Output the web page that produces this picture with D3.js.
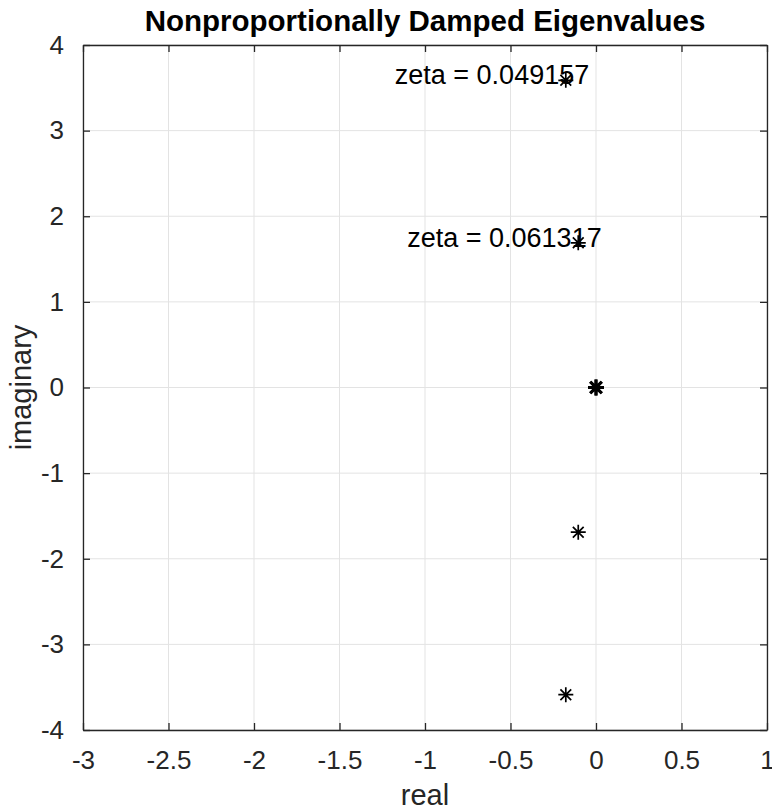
<!DOCTYPE html>
<html>
<head>
<meta charset="utf-8">
<script src="https://cdn.jsdelivr.net/npm/d3@7"></script>
<style>
  body { margin: 0; background: #fff; }
  text { font-family: "Liberation Sans", Arial, sans-serif; }
</style>
</head>
<body>
<svg id="viz"></svg>
<script>
var width = 772;
var height = 812;

// eigenvalues (real / imaginary parts)
var realParts = [-0.1766, -0.1766, -0.1038, -0.1038, 0, 0];
var imagParts = [3.588, -3.588, 1.690, -1.690, 0, 0];

// damping ratio labels, placed next to the upper eigenvalues
var zetaLabels = ["zeta = 0.049157", "zeta = 0.061317"];
var zetaReal = [-0.1766, -0.1038];
var zetaImag = [3.588, 1.690];

var xTicks = [-3, -2.5, -2, -1.5, -1, -0.5, 0, 0.5, 1];
var yTicks = [-4, -3, -2, -1, 0, 1, 2, 3, 4];

var margin = {top: 45, right: 5, bottom: 82, left: 83};

var svg = d3.select("#viz").attr("width", width).attr("height", height);

var x = d3.scaleLinear().domain([-3, 1]).range([margin.left, width - margin.right]);
var y = d3.scaleLinear().domain([-4, 4]).range([height - margin.bottom, margin.top]);

var axisColor = "#262626";
var tickLen = 7;

// grid lines
var grid = svg.append("g").attr("class", "grid");
grid.selectAll("line.gx")
    .data(xTicks)
    .enter()
    .append("line")
    .attr("x1", function(d) { return x(d); })
    .attr("x2", function(d) { return x(d); })
    .attr("y1", y(-4))
    .attr("y2", y(4))
    .attr("stroke", "#e3e3e3")
    .attr("stroke-width", 1);
grid.selectAll("line.gy")
    .data(yTicks)
    .enter()
    .append("line")
    .attr("y1", function(d) { return y(d); })
    .attr("y2", function(d) { return y(d); })
    .attr("x1", x(-3))
    .attr("x2", x(1))
    .attr("stroke", "#e3e3e3")
    .attr("stroke-width", 1);

// axes: bottom/left with labels, top/right as box with ticks only
function styleAxis(g) {
    g.select(".domain").attr("stroke", axisColor).attr("stroke-width", 1.3);
    g.selectAll(".tick line").attr("stroke", axisColor).attr("stroke-width", 1.3);
    g.selectAll(".tick text")
        .attr("fill", axisColor)
        .style("font-size", "26px")
        .style("font-family", "'Liberation Sans', Arial, sans-serif");
}

svg.append("g")
    .attr("transform", "translate(0," + y(-4) + ")")
    .call(d3.axisBottom(x).tickValues(xTicks).tickSizeInner(-tickLen).tickSizeOuter(0).tickPadding(21)
        .tickFormat(function(d) { return String(d); }))
    .call(styleAxis);

svg.append("g")
    .attr("transform", "translate(" + x(-3) + ",0)")
    .call(d3.axisLeft(y).tickValues(yTicks).tickSizeInner(-tickLen).tickSizeOuter(0).tickPadding(19)
        .tickFormat(function(d) { return String(d); }))
    .call(styleAxis);

svg.append("g")
    .attr("transform", "translate(0," + y(4) + ")")
    .call(d3.axisTop(x).tickValues(xTicks).tickSizeInner(-tickLen).tickSizeOuter(0).tickFormat(""))
    .call(styleAxis);

svg.append("g")
    .attr("transform", "translate(" + x(1) + ",0)")
    .call(d3.axisRight(y).tickValues(yTicks).tickSizeInner(-tickLen).tickSizeOuter(0).tickFormat(""))
    .call(styleAxis);

// asterisk markers (plus + cross); the double root at 0 looks heavier
var pts = realParts.map(function(r, i) { return {re: r, im: imagParts[i]}; });
function star(s) {
    var d2 = s * 0.72;
    return "M0," + (-s) + "V" + s + "M" + (-s) + ",0H" + s +
           "M" + (-d2) + "," + (-d2) + "L" + d2 + "," + d2 +
           "M" + (-d2) + "," + d2 + "L" + d2 + "," + (-d2);
}
svg.append("g").attr("class", "markers")
    .selectAll("path")
    .data(pts)
    .enter()
    .append("path")
    .attr("transform", function(d) { return "translate(" + x(d.re) + "," + y(d.im) + ")"; })
    .attr("d", function(d) { return d.re === 0 && d.im === 0 ? star(8) : star(7.5); })
    .attr("fill", "none")
    .attr("stroke", "#000")
    .attr("stroke-width", function(d) { return d.re === 0 && d.im === 0 ? 3 : 1.7; });

// zeta annotations: left aligned one unit to the left of the eigenvalue
svg.append("g").selectAll("text")
    .data(zetaLabels)
    .enter()
    .append("text")
    .attr("x", function(d, i) { return x(zetaReal[i] - 1); })
    .attr("y", function(d, i) { return y(zetaImag[i]) + 4; })
    .attr("fill", "#000")
    .style("font-size", "27px")
    .text(function(d) { return d; });

// title and axis labels
svg.append("text")
    .attr("x", (x(-3) + x(1)) / 2)
    .attr("y", 31)
    .attr("text-anchor", "middle")
    .attr("fill", "#000")
    .style("font-size", "29.5px")
    .style("font-weight", 700)
    .text("Nonproportionally Damped Eigenvalues");

svg.append("text")
    .attr("x", (x(-3) + x(1)) / 2)
    .attr("y", 805)
    .attr("text-anchor", "middle")
    .attr("fill", axisColor)
    .style("font-size", "29px")
    .text("real");

svg.append("text")
    .attr("transform", "translate(31," + y(0) + ") rotate(-90)")
    .attr("text-anchor", "middle")
    .attr("fill", axisColor)
    .style("font-size", "29px")
    .text("imaginary");
</script>
</body>
</html>
